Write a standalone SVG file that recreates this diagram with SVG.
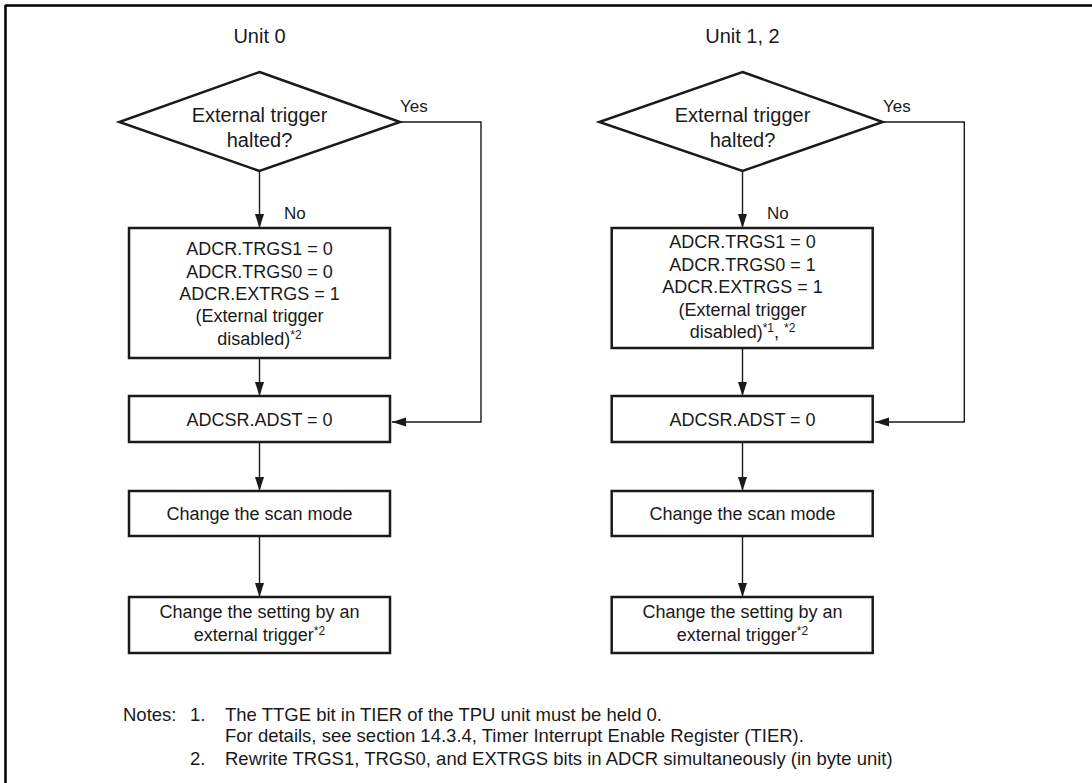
<svg xmlns="http://www.w3.org/2000/svg" width="1092" height="783" viewBox="0 0 1092 783">
<style>
text{font-family:"Liberation Sans",Arial,sans-serif;fill:#1a1a1a}
.t{font-size:18px;text-anchor:middle}
.d{font-size:20px;text-anchor:middle}
.h{font-size:20px;text-anchor:middle}
.l{font-size:17px}
.n{font-size:18.5px}
.sup{font-size:12px}
.box{fill:#fff;stroke:#1a1a1a;stroke-width:2.5}
.c{fill:none;stroke:#1a1a1a;stroke-width:1.4}
</style>
<defs>
<marker id="ah" markerUnits="userSpaceOnUse" markerWidth="14" markerHeight="10" refX="14" refY="5" orient="auto">
<path d="M0,0.5 L14,5 L0,9.5 z" fill="#1a1a1a"/>
</marker>
</defs>
<rect width="1092" height="783" fill="#fff"/>
<g id="frame">
<line x1="5" y1="5.5" x2="1092" y2="5.5" stroke="#000" stroke-width="2.5"/>
<line x1="5.5" y1="5" x2="5.5" y2="783" stroke="#000" stroke-width="2.5"/>
</g>
<text class="h" x="259.5" y="43">Unit 0</text>
<text class="h" x="742.5" y="43">Unit 1, 2</text>
<g id="connectors">
<line class="c" x1="259.5" y1="171" x2="259.5" y2="228" marker-end="url(#ah)"/>
<line class="c" x1="259.5" y1="358" x2="259.5" y2="396" marker-end="url(#ah)"/>
<line class="c" x1="259.5" y1="442" x2="259.5" y2="491" marker-end="url(#ah)"/>
<line class="c" x1="259.5" y1="536" x2="259.5" y2="597" marker-end="url(#ah)"/>
<polyline class="c" points="400,122 481,122 481,422 392,422" marker-end="url(#ah)"/>
<line class="c" x1="742.5" y1="171" x2="742.5" y2="228" marker-end="url(#ah)"/>
<line class="c" x1="742.5" y1="348" x2="742.5" y2="396" marker-end="url(#ah)"/>
<line class="c" x1="742.5" y1="442" x2="742.5" y2="491" marker-end="url(#ah)"/>
<line class="c" x1="742.5" y1="536" x2="742.5" y2="597" marker-end="url(#ah)"/>
<polyline class="c" points="882.7,122 964.3,122 964.3,422 875,422" marker-end="url(#ah)"/>
<text class="l" x="400" y="112">Yes</text>
<text class="l" x="284" y="219">No</text>
<text class="l" x="883" y="112">Yes</text>
<text class="l" x="767" y="219">No</text>
</g>
<g id="dec0">
<polygon class="box" points="259.5,72 400,122 259.5,171 119.3,122"/>
<text class="d" x="259.5" y="122">External trigger</text>
<text class="d" x="259.5" y="147">halted?</text>
</g>
<g id="set0">
<rect class="box" x="129" y="228" width="261" height="130"/>
<text class="t" x="259.5" y="255">ADCR.TRGS1 = 0</text>
<text class="t" x="259.5" y="277.5">ADCR.TRGS0 = 0</text>
<text class="t" x="259.5" y="300">ADCR.EXTRGS = 1</text>
<text class="t" x="259.5" y="322">(External trigger</text>
<text class="t" x="259.5" y="345">disabled)<tspan class="sup" dy="-6">*2</tspan></text>
</g>
<g id="adst0">
<rect class="box" x="129" y="396" width="261" height="46"/>
<text class="t" x="259.5" y="425.5">ADCSR.ADST = 0</text>
</g>
<g id="scan0">
<rect class="box" x="129" y="491" width="261" height="45"/>
<text class="t" x="259.5" y="520">Change the scan mode</text>
</g>
<g id="ext0">
<rect class="box" x="129" y="597" width="261" height="56"/>
<text class="t" x="259.5" y="618">Change the setting by an</text>
<text class="t" x="259.5" y="641">external trigger<tspan class="sup" dy="-6">*2</tspan></text>
</g>
<g id="dec1">
<polygon class="box" points="742.5,72 882.7,122 742.5,171 599.3,122"/>
<text class="d" x="742.5" y="122">External trigger</text>
<text class="d" x="742.5" y="147">halted?</text>
</g>
<g id="set1">
<rect class="box" x="611.7" y="228" width="261" height="120"/>
<text class="t" x="742.5" y="248">ADCR.TRGS1 = 0</text>
<text class="t" x="742.5" y="270.5">ADCR.TRGS0 = 1</text>
<text class="t" x="742.5" y="293">ADCR.EXTRGS = 1</text>
<text class="t" x="742.5" y="315.5">(External trigger</text>
<text class="t" x="742.5" y="338">disabled)<tspan class="sup" dy="-6">*1</tspan><tspan dy="6">, </tspan><tspan class="sup" dy="-6">*2</tspan></text>
</g>
<g id="adst1">
<rect class="box" x="611.7" y="396" width="261" height="46"/>
<text class="t" x="742.5" y="425.5">ADCSR.ADST = 0</text>
</g>
<g id="scan1">
<rect class="box" x="611.7" y="491" width="261" height="45"/>
<text class="t" x="742.5" y="520">Change the scan mode</text>
</g>
<g id="ext1">
<rect class="box" x="611.7" y="597" width="261" height="56"/>
<text class="t" x="742.5" y="618">Change the setting by an</text>
<text class="t" x="742.5" y="641">external trigger<tspan class="sup" dy="-6">*2</tspan></text>
</g>
<g id="notes">
<text class="n" x="123" y="721">Notes:</text>
<text class="n" x="190" y="721">1.</text>
<text class="n" x="225" y="721">The TTGE bit in TIER of the TPU unit must be held 0.</text>
<text class="n" x="225" y="742">For details, see section 14.3.4, Timer Interrupt Enable Register (TIER).</text>
<text class="n" x="190" y="765">2.</text>
<text class="n" x="225" y="765">Rewrite TRGS1, TRGS0, and EXTRGS bits in ADCR simultaneously (in byte unit)</text>
</g>
</svg>
